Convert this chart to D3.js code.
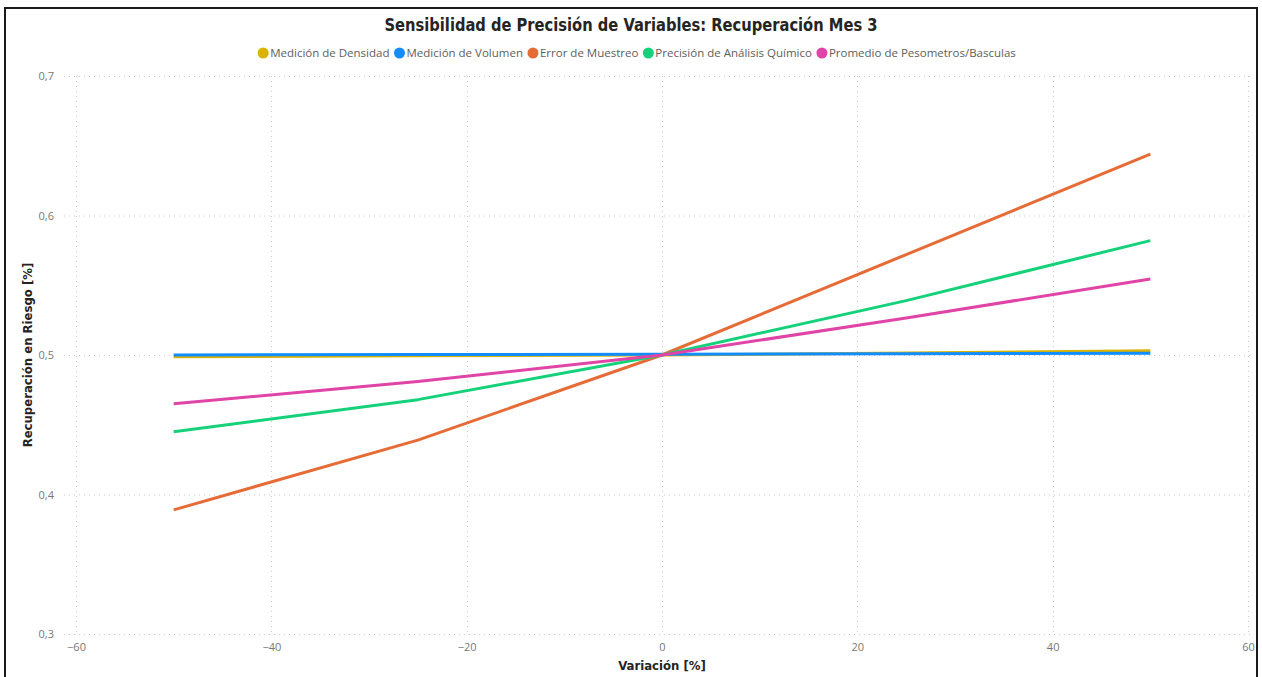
<!DOCTYPE html>
<html>
<head>
<meta charset="utf-8">
<script src="https://cdn.jsdelivr.net/npm/d3@7"></script>
<style>
  html, body { margin: 0; padding: 0; background: #fff; }
  svg { display: block; }
</style>
</head>
<body>
<svg id="chart" width="1262" height="677"></svg>
<script>
// Variation steps (%) applied to each input variable
const variacion = [-50, -25, 0, 25, 50];

// Recovery at risk for each variable across the variation steps
const densidad   = [0.4988, 0.4994, 0.5, 0.5015, 0.5030];
const volumen    = [0.5000, 0.5003, 0.5006, 0.5009, 0.5012];
const muestreo   = [0.389, 0.439, 0.5, 0.572, 0.644];
const quimico    = [0.445, 0.468, 0.5, 0.539, 0.582];
const pesometros = [0.465, 0.481, 0.5, 0.5265, 0.5545];

const seriesNames  = ["Medición de Densidad", "Medición de Volumen", "Error de Muestreo", "Precisión de Análisis Químico", "Promedio de Pesometros/Basculas"];
const seriesValues = [densidad, volumen, muestreo, quimico, pesometros];
const seriesColors = ["#D9B300", "#118DFF", "#E66C37", "#15D27A", "#E044A7"];

const xTicks = [-60, -40, -20, 0, 20, 40, 60];
const yTicks = [0.3, 0.4, 0.5, 0.6, 0.7];

const title  = "Sensibilidad de Precisión de Variables: Recuperación Mes 3";
const xTitle = "Variación [%]";
const yTitle = "Recuperación en Riesgo [%]";

const svg = d3.select("#chart");

// Frame around the visual
svg.append("rect")
  .attr("x", 5).attr("y", 8)
  .attr("width", 1252).attr("height", 680)
  .attr("fill", "#fff")
  .attr("stroke", "#1a1a1a")
  .attr("stroke-width", 2);

const x = d3.scaleLinear().domain([-60, 60]).range([76, 1248]);
const y = d3.scaleLinear().domain([0.3, 0.7]).range([634, 76]);

const fmt = d => d3.format(".1f")(d).replace(".", ",");

// Title
svg.append("text")
  .attr("x", 631).attr("y", 31)
  .attr("text-anchor", "middle")
  .attr("font-family", "'DejaVu Sans Condensed', 'DejaVu Sans', sans-serif")
  .attr("font-stretch", "condensed")
  .attr("font-weight", "bold")
  .attr("font-size", 18)
  .attr("textLength", 493)
  .attr("lengthAdjust", "spacingAndGlyphs")
  .attr("fill", "#252423")
  .text(title);

// Legend
const legend = svg.append("g").attr("font-family", "'Open Sans', sans-serif").attr("font-size", 11.5).attr("fill", "#605E5C");
let cursor = 0;
seriesNames.forEach((name, i) => {
  const g = legend.append("g");
  g.append("circle").attr("cx", 5).attr("cy", -4).attr("r", 5.5).attr("fill", seriesColors[i]);
  const t = g.append("text").attr("x", 12).attr("y", 0).text(name);
  const w = 12 + t.node().getComputedTextLength();
  g.attr("transform", `translate(${cursor},0)`);
  cursor += w + 5;
});
const legendWidth = cursor - 5;
legend.attr("transform", `translate(${637 - legendWidth / 2},57)`);

// Grid lines
const grid = svg.append("g").attr("stroke", "#C8C8C8").attr("stroke-width", 1).attr("stroke-dasharray", "1,4");
grid.selectAll("line.h").data(yTicks).join("line")
  .attr("class", "h")
  .attr("x1", 64).attr("x2", 1254)
  .attr("y1", d => y(d) + 0.5).attr("y2", d => y(d) + 0.5);
grid.selectAll("line.v").data(xTicks).join("line")
  .attr("class", "v")
  .attr("x1", d => Math.round(x(d)) + 0.5).attr("x2", d => Math.round(x(d)) + 0.5)
  .attr("y1", 76).attr("y2", 634);

// Axes
const xAxis = svg.append("g").attr("transform", "translate(0,634)")
  .call(d3.axisBottom(x).tickValues(xTicks).tickSize(0).tickPadding(9).tickFormat(d3.format("d")));
const yAxis = svg.append("g").attr("transform", "translate(56,0)")
  .call(d3.axisLeft(y).tickValues(yTicks).tickSize(0).tickPadding(2).tickFormat(fmt));
[xAxis, yAxis].forEach(a => {
  a.select(".domain").remove();
  a.selectAll("text")
    .attr("font-family", "'Open Sans', sans-serif")
    .attr("font-size", 11)
    .attr("fill", "#777777");
});

// Axis titles
svg.append("text")
  .attr("x", 662).attr("y", 670)
  .attr("text-anchor", "middle")
  .attr("font-family", "'DejaVu Sans Condensed', 'DejaVu Sans', sans-serif")
  .attr("font-weight", "bold").attr("font-size", 13)
  .attr("fill", "#252423")
  .text(xTitle);
svg.append("text")
  .attr("transform", "translate(32,355) rotate(-90)")
  .attr("text-anchor", "middle")
  .attr("font-family", "'DejaVu Sans Condensed', 'DejaVu Sans', sans-serif")
  .attr("font-weight", "bold").attr("font-size", 13)
  .attr("fill", "#252423")
  .text(yTitle);

// Series lines
const line = d3.line().x((d, i) => x(variacion[i])).y(d => y(d));
svg.append("g").selectAll("path").data(seriesValues).join("path")
  .attr("d", d => line(d))
  .attr("fill", "none")
  .attr("stroke", (d, i) => seriesColors[i])
  .attr("stroke-width", 3)
  .attr("stroke-linejoin", "round");
</script>
</body>
</html>
